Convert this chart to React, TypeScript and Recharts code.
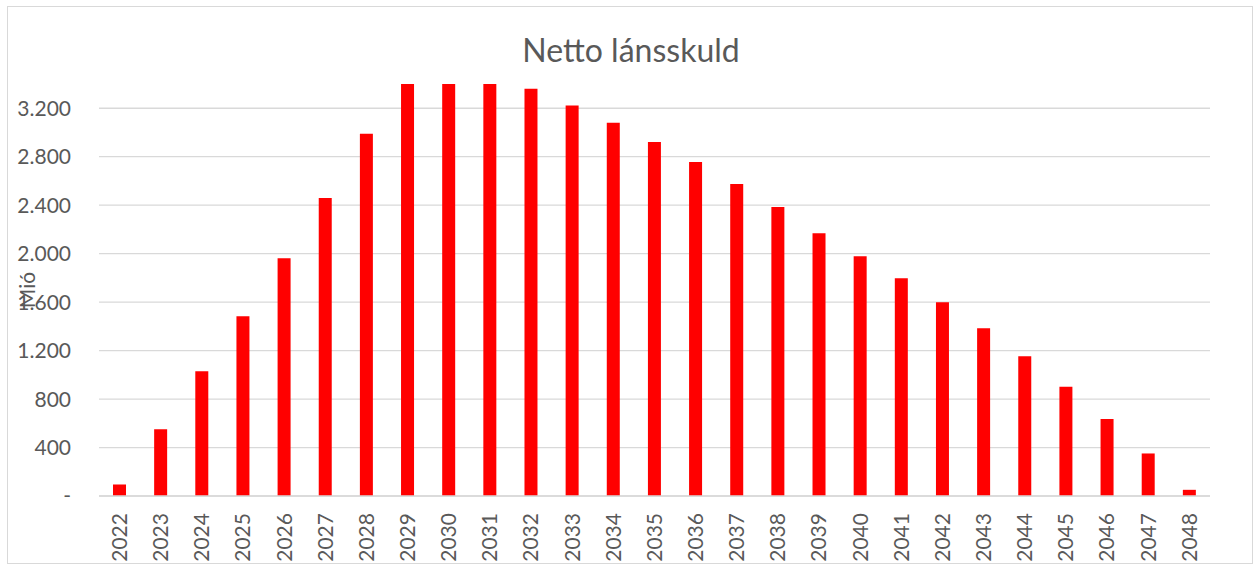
import React from "react";
import {
  BarChart,
  Bar,
  XAxis,
  YAxis,
  CartesianGrid,
} from "recharts";

const years = [
  "2022", "2023", "2024", "2025", "2026", "2027", "2028", "2029", "2030",
  "2031", "2032", "2033", "2034", "2035", "2036", "2037", "2038", "2039",
  "2040", "2041", "2042", "2043", "2044", "2045", "2046", "2047", "2048",
];

const nettoLansskuld = [
  95, 550, 1030, 1483, 1963, 2460, 2990, 3400, 3400, 3400, 3360, 3222,
  3081, 2921, 2756, 2574, 2384, 2169, 1979, 1797, 1599, 1384, 1153, 902,
  635, 351, 51,
];

const yTicks = [0, 400, 800, 1200, 1600, 2000, 2400, 2800, 3200];

const FONT = "Lato, 'Open Sans', sans-serif";
const TEXT = "#595959";
const GRID = "#d9d9d9";

function formatTick(v: number): string {
  if (v === 0) return "-";
  return v.toString().replace(/\B(?=(\d{3})+(?!\d))/g, ".");
}

function YearTick(props: any) {
  const { x, y, payload } = props;
  const ty = y + 17;
  return (
    <text
      x={x}
      y={ty}
      dy="0.35em"
      textAnchor="end"
      transform={`rotate(-90, ${x}, ${ty})`}
      fill={TEXT}
      fontSize={21}
      fontFamily={FONT}
    >
      {payload.value}
    </text>
  );
}

export default function App() {
  const data = years.map((year, i) => ({ year, value: nettoLansskuld[i] }));

  return (
    <div
      style={{
        position: "absolute",
        left: 0,
        top: 0,
        width: 1255,
        height: 566,
        background: "#fff",
      }}
    >
      <div
        style={{
          position: "absolute",
          left: 7,
          top: 6,
          width: 1244,
          height: 556,
          border: `1px solid ${GRID}`,
          pointerEvents: "none",
        }}
      />
      <div style={{ position: "absolute", left: 0, top: 0 }}>
        <BarChart
          width={1255}
          height={566}
          data={data}
          margin={{ top: 84, right: 45, bottom: 0, left: 0 }}
        >
          <CartesianGrid
            vertical={false}
            horizontalValues={yTicks}
            stroke={GRID}
            strokeWidth={1.3}
          />
          <XAxis
            dataKey="year"
            height={70}
            interval={0}
            tickLine={false}
            tickSize={0}
            tickMargin={0}
            axisLine={{ stroke: GRID, strokeWidth: 1.5 }}
            tick={<YearTick />}
          />
          <YAxis
            width={99}
            domain={[0, 3400]}
            ticks={yTicks}
            allowDataOverflow
            tickLine={false}
            axisLine={false}
            tickSize={0}
            tickMargin={28}
            tickFormatter={formatTick}
            tick={{ fill: TEXT, fontSize: 21, fontFamily: FONT }}
          />
          <Bar
            dataKey="value"
            fill="#ff0000"
            barSize={13}
            isAnimationActive={false}
          />
        </BarChart>
      </div>
      <svg
        width={1255}
        height={566}
        style={{ position: "absolute", left: 0, top: 0, pointerEvents: "none" }}
      >
        <text
          x={631}
          y={62}
          textAnchor="middle"
          fill={TEXT}
          fontSize={32}
          fontFamily={FONT}
        >
          Netto lánsskuld
        </text>
        <text
          x={28}
          y={290}
          dy="0.35em"
          textAnchor="middle"
          transform="rotate(-90, 28, 290)"
          fill={TEXT}
          fontSize={21}
          fontFamily={FONT}
        >
          Mió
        </text>
      </svg>
    </div>
  );
}
